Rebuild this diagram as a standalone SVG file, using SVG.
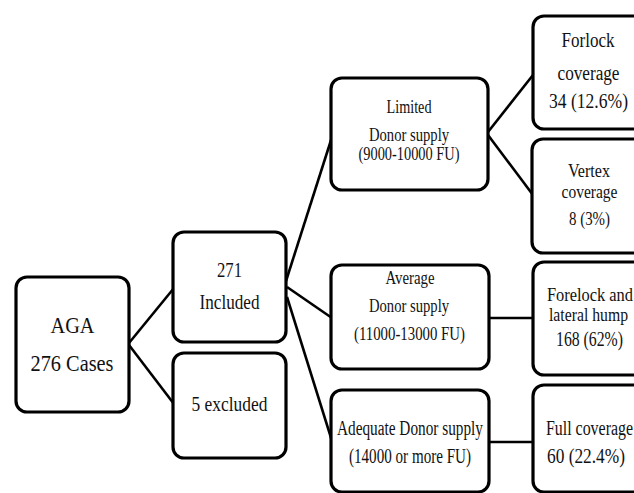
<svg xmlns="http://www.w3.org/2000/svg" width="634" height="493" viewBox="0 0 634 493">
<style>
.box{fill:#fff;stroke:#000;stroke-width:3.2}
.ln{stroke:#000;stroke-width:2.6;fill:none}
text{font-family:"Liberation Serif","Times New Roman",serif;fill:#111;text-anchor:middle}
</style>
<rect width="634" height="493" fill="#fff"/>
<g id="connectors">
<line class="ln" x1="129" y1="343" x2="174" y2="288"/>
<line class="ln" x1="129" y1="345" x2="174" y2="404"/>
<line class="ln" x1="286" y1="281" x2="332" y2="137"/>
<line class="ln" x1="287" y1="287" x2="332" y2="318"/>
<line class="ln" x1="287" y1="297" x2="332" y2="441"/>
<line class="ln" x1="488" y1="132" x2="533" y2="75"/>
<line class="ln" x1="488" y1="135" x2="533" y2="195"/>
<line class="ln" x1="489" y1="318" x2="533" y2="318"/>
<line class="ln" x1="489" y1="442" x2="533" y2="442"/>
</g>
<g id="aga">
<rect class="box" x="16" y="277" width="113" height="135" rx="11"/>
<text x="72.5" y="333" font-size="24" textLength="44" lengthAdjust="spacingAndGlyphs">AGA</text>
<text x="72" y="371" font-size="23.5" textLength="83" lengthAdjust="spacingAndGlyphs">276 Cases</text>
</g>
<g id="included">
<rect class="box" x="173" y="232" width="113" height="110" rx="11"/>
<text x="229.5" y="277" font-size="21" textLength="25" lengthAdjust="spacingAndGlyphs">271</text>
<text x="229.5" y="309" font-size="21" textLength="60" lengthAdjust="spacingAndGlyphs">Included</text>
</g>
<g id="excluded">
<rect class="box" x="173" y="353" width="113" height="105" rx="11"/>
<text x="229.5" y="411" font-size="22" textLength="76" lengthAdjust="spacingAndGlyphs">5 excluded</text>
</g>
<g id="limited">
<rect class="box" x="331" y="78" width="157" height="112" rx="11"/>
<text x="409" y="113" font-size="18" textLength="45" lengthAdjust="spacingAndGlyphs">Limited</text>
<text x="409" y="141" font-size="18" textLength="80" lengthAdjust="spacingAndGlyphs">Donor supply</text>
<text x="409" y="160" font-size="18" textLength="101" lengthAdjust="spacingAndGlyphs">(9000-10000 FU)</text>
</g>
<g id="average">
<rect class="box" x="331" y="265" width="158" height="104" rx="11"/>
<text x="410" y="284" font-size="18" textLength="49" lengthAdjust="spacingAndGlyphs">Average</text>
<text x="409" y="312" font-size="18" textLength="80" lengthAdjust="spacingAndGlyphs">Donor supply</text>
<text x="409.5" y="340" font-size="18" textLength="111" lengthAdjust="spacingAndGlyphs">(11000-13000 FU)</text>
</g>
<g id="adequate">
<rect class="box" x="331" y="390" width="158" height="102" rx="11"/>
<text x="410" y="435" font-size="20" textLength="146" lengthAdjust="spacingAndGlyphs">Adequate Donor supply</text>
<text x="410" y="463" font-size="20" textLength="122" lengthAdjust="spacingAndGlyphs">(14000 or more FU)</text>
</g>
<g id="forlock">
<rect class="box" x="533" y="16" width="112" height="113" rx="11"/>
<text x="588" y="47" font-size="20" textLength="53" lengthAdjust="spacingAndGlyphs">Forlock</text>
<text x="588.5" y="80" font-size="20" textLength="62" lengthAdjust="spacingAndGlyphs">coverage</text>
<text x="588.5" y="108" font-size="20" textLength="79" lengthAdjust="spacingAndGlyphs">34 (12.6%)</text>
</g>
<g id="vertex">
<rect class="box" x="532" y="139" width="113" height="114" rx="11"/>
<text x="589" y="177" font-size="19" textLength="42" lengthAdjust="spacingAndGlyphs">Vertex</text>
<text x="589.5" y="198" font-size="19" textLength="56" lengthAdjust="spacingAndGlyphs">coverage</text>
<text x="589.5" y="225" font-size="19" textLength="41" lengthAdjust="spacingAndGlyphs">8 (3%)</text>
</g>
<g id="forelock-hump">
<rect class="box" x="533" y="262" width="112" height="113" rx="11"/>
<text x="590" y="301" font-size="19" textLength="86" lengthAdjust="spacingAndGlyphs">Forelock and</text>
<text x="588.5" y="321" font-size="19" textLength="79" lengthAdjust="spacingAndGlyphs">lateral hump</text>
<text x="589.5" y="346" font-size="20" textLength="67" lengthAdjust="spacingAndGlyphs">168 (62%)</text>
</g>
<g id="full">
<rect class="box" x="533" y="385" width="112" height="107" rx="11"/>
<text x="589.5" y="435" font-size="20" textLength="87" lengthAdjust="spacingAndGlyphs">Full coverage</text>
<text x="586" y="463" font-size="20" textLength="78" lengthAdjust="spacingAndGlyphs">60 (22.4%)</text>
</g>
</svg>
